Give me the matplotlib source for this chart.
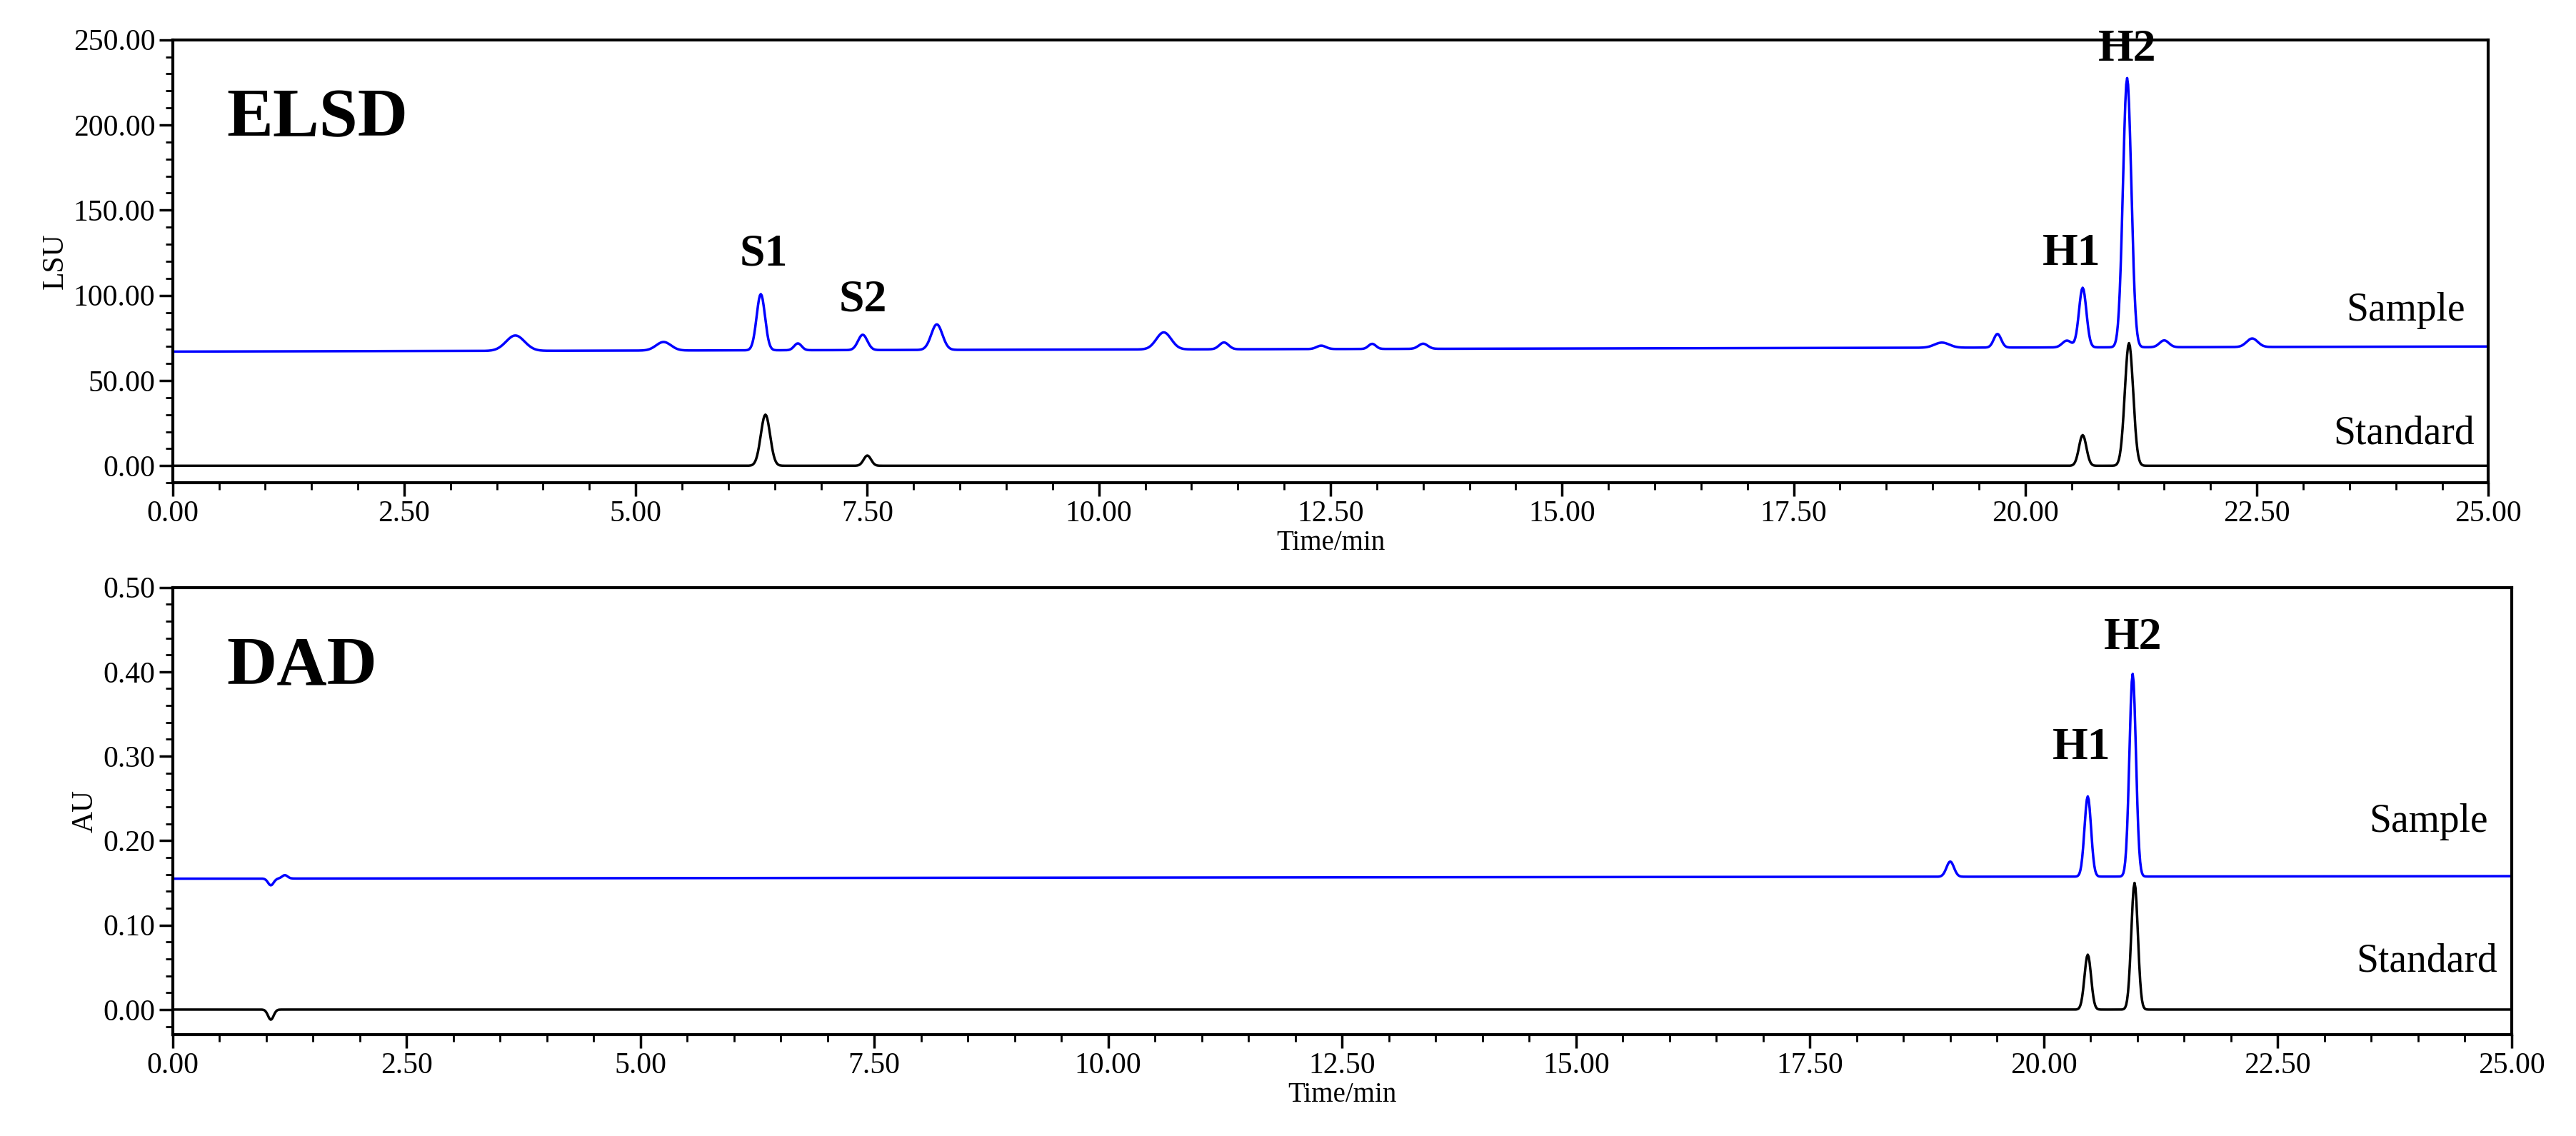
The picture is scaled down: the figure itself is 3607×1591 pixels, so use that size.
import numpy as np
import matplotlib.pyplot as plt
from matplotlib.ticker import MultipleLocator

plt.rcParams['font.family'] = ['Liberation Serif', 'DejaVu Serif']

t = np.linspace(0, 25, 2501)

# ELSD peaks: (time, height, width)
elsd_sample_base = (67.0, 70.0)
elsd_sample_peaks = [(3.7, 9, 0.1), (5.3, 5, 0.08), (6.35, 33, 0.045), (6.75, 4, 0.04),
                     (7.45, 9, 0.05), (8.25, 15, 0.06), (10.7, 10, 0.08), (11.35, 4, 0.05),
                     (12.4, 2, 0.05), (12.95, 3, 0.04), (13.5, 3, 0.05), (19.1, 3, 0.08),
                     (19.7, 8, 0.04), (20.45, 4, 0.05), (20.62, 35, 0.04), (21.1, 158, 0.045),
                     (21.5, 4, 0.05), (22.45, 5, 0.06)]
elsd_std_peaks = [(6.4, 30, 0.05), (7.5, 6, 0.04), (20.62, 18, 0.04), (21.12, 72, 0.045)]

# DAD peaks
dad_sample_base = (0.155, 0.158)
dad_sample_peaks = [(1.05, -0.008, 0.03), (1.2, 0.004, 0.03), (19.0, 0.018, 0.04),
                    (20.47, 0.095, 0.035), (20.95, 0.24, 0.035)]
dad_std_peaks = [(1.05, -0.012, 0.03), (20.47, 0.065, 0.035), (20.97, 0.15, 0.035)]


def trace(base0, base1, peaks):
    y = base0 + (base1 - base0) * t / 25
    for c, h, w in peaks:
        y = y + h * np.exp(-0.5 * ((t - c) / w) ** 2)
    return y


fig = plt.figure(figsize=(36.07, 15.91), dpi=100)
ax1 = fig.add_axes([0.067, 0.575, 0.899, 0.39])
ax2 = fig.add_axes([0.067, 0.089, 0.908, 0.394])

panels = [
    (ax1, trace(*elsd_sample_base, elsd_sample_peaks), trace(0, 0, elsd_std_peaks),
     (-10, 250), 50, 10, 'LSU', 'ELSD',
     [('S1', 6.38, 112), ('S2', 7.45, 85), ('H1', 20.5, 112), ('H2', 21.1, 232)],
     (80, 8)),
    (ax2, trace(*dad_sample_base, dad_sample_peaks), trace(0, 0, dad_std_peaks),
     (-0.03, 0.5), 0.1, 0.02, 'AU', 'DAD',
     [('H1', 20.4, 0.285), ('H2', 20.95, 0.415)],
     (0.2, 0.035)),
]

for ax, ys, yst, ylim, major, minor, ylab, name, peaks, txty in panels:
    ax.plot(t, ys, color='blue', lw=2.5)
    ax.plot(t, yst, color='black', lw=2.5)
    ax.set_xlim(0, 25)
    ax.set_ylim(*ylim)
    ax.xaxis.set_major_locator(MultipleLocator(2.5))
    ax.xaxis.set_minor_locator(MultipleLocator(0.5))
    ax.yaxis.set_major_locator(MultipleLocator(major))
    ax.yaxis.set_minor_locator(MultipleLocator(minor))
    ax.xaxis.set_major_formatter(lambda v, p: f'{v:.2f}')
    ax.yaxis.set_major_formatter(lambda v, p: f'{v:.2f}')
    ax.tick_params(which='major', length=14, width=2.5, labelsize=30)
    ax.tick_params(which='minor', length=7, width=2)
    for s in ax.spines.values():
        s.set_linewidth(3)
    ax.set_xlabel('Time/min', fontsize=28, labelpad=2)
    ax.set_ylabel(ylab, fontsize=30, labelpad=4)
    ax.text(0.58, ylim[0] + (ylim[1] - ylim[0]) * 0.82, name, fontsize=70,
            fontweight='bold', va='center')
    for lab, x, y in peaks:
        ax.text(x, y, lab, fontsize=46, fontweight='bold', ha='center', va='bottom')
    ax.text(24.75, txty[0], 'Sample', fontsize=40, ha='right', va='bottom')
    ax.text(24.85, txty[1], 'Standard', fontsize=40, ha='right', va='bottom')

fig.savefig('out.png', dpi=100)
